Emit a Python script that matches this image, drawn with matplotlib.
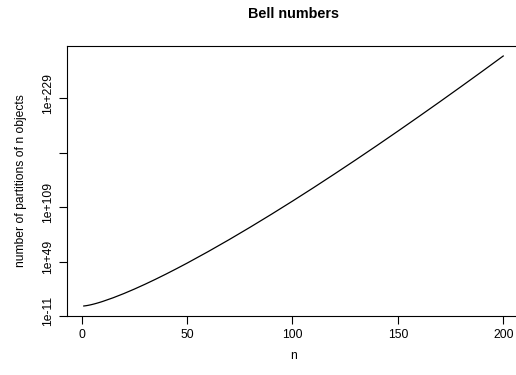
import numpy as np
import matplotlib.pyplot as plt
import matplotlib.transforms as mtrans

# n values and log10 of the Bell numbers B(n), read off / estimated
n = [1, 2, 3, 4, 5, 6, 7, 8, 9, 10, 15, 20, 25, 30, 35, 40, 45, 50,
     60, 70, 80, 90, 100, 110, 120, 130, 140, 150, 160, 170, 180, 190, 200]
log_bell = [0.0, 0.301, 0.699, 1.176, 1.716, 2.307, 2.943, 3.617, 4.325, 5.064,
            9.141, 13.714, 18.666, 23.928, 29.450, 35.197, 41.16, 47.269,
            60.01, 73.27, 87.01, 101.16, 115.68, 130.54, 145.73, 161.17,
            176.88, 192.85, 209.05, 225.43, 242.03, 258.82, 275.80]

yticks = [-11, 49, 109, 169, 229]
ylabels = ['1e-11', '1e+49', '1e+109', '', '1e+229']
xticks = [0, 50, 100, 150, 200]

plt.rcParams['font.family'] = ['Liberation Sans', 'DejaVu Sans']
fs = 8.7

fig = plt.figure(figsize=(5.16, 3.75), dpi=100)
ax = fig.add_axes([67/516, 59/375, 453/516, 270/375])

ax.plot(n, log_bell, color='black', lw=0.9)

# R style 4% padding
xr = n[-1] - n[0]
yr = log_bell[-1] - log_bell[0]
ax.set_xlim(n[0] - 0.04*xr, n[-1] + 0.04*xr)
ax.set_ylim(log_bell[0] - 0.04*yr, log_bell[-1] + 0.04*yr)

ax.set_xticks(xticks)
ax.set_yticks(yticks)
ax.set_yticklabels(ylabels)
ax.tick_params(direction='out', length=5.5, width=0.8, labelsize=fs, pad=3.5)
ax.tick_params(axis='y', pad=4)
shift = mtrans.ScaledTranslation(0, 3.5/72, fig.dpi_scale_trans)
for lab in ax.get_yticklabels():
    lab.set_rotation(90)
    lab.set_verticalalignment('center')
    lab.set_transform(lab.get_transform() + shift)
for s in ax.spines.values():
    s.set_linewidth(0.8)

ax.set_xlabel('n', fontsize=fs, labelpad=7)
ax.set_ylabel('number of partitions of n objects', fontsize=fs, labelpad=11)
fig.text(293.5/516, 1 - 14/375, 'Bell numbers', fontsize=10.4, fontweight='bold',
         ha='center', va='center')

fig.savefig('out.png', dpi=100)
